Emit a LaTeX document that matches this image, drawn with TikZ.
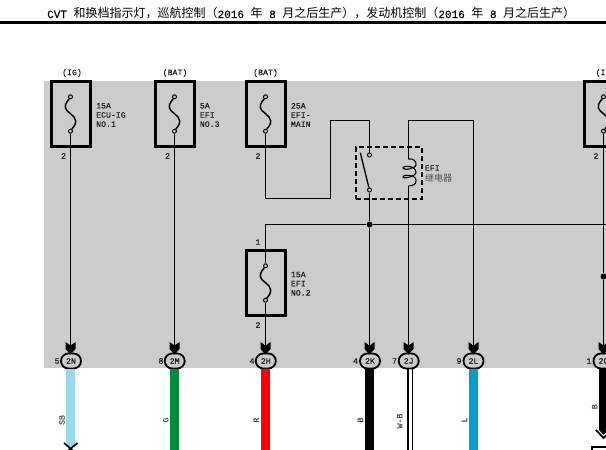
\documentclass[tikz,border=0pt]{standalone}
\usepackage{fontspec}
\usetikzlibrary{shapes.misc}
\newfontfamily\lm[RawFeature={embolden=0.2}]{Liberation Mono}
\newfontfamily\cjk{Noto Sans CJK SC}
\definecolor{bggray}{HTML}{CCCCCC}
\definecolor{wsb}{HTML}{99D9EA}
\definecolor{wg}{HTML}{008C3C}
\definecolor{wl}{HTML}{00A0C8}
\tikzset{
 lab/.style={inner sep=0pt,font=\lm\fontsize{8.2}{9.2}\selectfont,text=black!90},
 labl/.style={lab,anchor=west,align=left},
 wirelab/.style={lab,rotate=90,text=black!70},
 fusebox/.style={draw,line width=3pt,minimum width=39pt,minimum height=65pt,inner sep=0pt},
 contact/.style={circle,draw,line width=1pt,minimum size=4pt,inner sep=0pt},
 wire/.style={line width=1pt,black},
 fusewire/.style={line width=1.5pt,black},
 pin/.style={rounded rectangle,draw,line width=1.8pt,minimum width=20pt,minimum height=15pt,inner sep=0pt,lab},
 thick wire/.style={line width=9pt},
 dot/.style={circle,fill=black,minimum size=6pt,inner sep=0pt},
 relaybox/.style={draw,line width=1.6pt,dash pattern=on 5pt off 3pt,minimum width=66pt,minimum height=52pt,inner sep=0pt},
 pintip/.pic={\fill (-5,-12.5)--(0,-9)--(5,-12.5)--(5,-5.5)--(0,0)--(-5,-5.5)--cycle;}
}
\newcommand\fusesym[3]{%
 \node[fusebox] (#1) at (#2,#3) {};
 \node[contact] (#1t) at (#2,#3-17.2) {};
 \node[contact] (#1b) at (#2,#3+17.2) {};
 \draw[fusewire] (#1t) .. controls (#2-2,#3-14) and (#2-5.5,#3-11) .. (#2-5.2,#3-6.5) .. controls (#2-5,#3-2) and (#2+5,#3+1) .. (#2+5.2,#3+7) .. controls (#2+5.4,#3+11) and (#2+2,#3+14) .. (#1b);
}
\begin{document}
\begin{tikzpicture}[x=1pt,y=-1pt,line cap=butt]
\useasboundingbox (0,0) rectangle (606,450);
\clip (0,0) rectangle (606,450);
\fill[white] (0,0) rectangle (606,450);
\fill[bggray] (44,81) rectangle (606,368);
\fill[black] (0,21) rectangle (606,24);
\node[anchor=west,inner sep=0pt] (title) at (47,13.5) {\fontsize{12}{12}\selectfont{\lm\fontsize{11}{12}\selectfont CVT }{\cjk 和换档指示灯，巡航控制（}{\lm\fontsize{11}{12}\selectfont 2016 }{\cjk 年}{\lm\fontsize{11}{12}\selectfont\ 8 }{\cjk 月之后生产），发动机控制（}{\lm\fontsize{11}{12}\selectfont 2016 }{\cjk 年}{\lm\fontsize{11}{12}\selectfont\ 8 }{\cjk 月之后生产）}};

% fuses
\fusesym{fa}{70.5}{114}
\fusesym{fb}{174.5}{114}
\fusesym{fc}{265.5}{114}
\fusesym{fd}{603.5}{114}
\fusesym{fe}{265.5}{283}

\node[lab] (sa) at (72,73) {(IG)};
\node[lab] (sb) at (175,73) {(BAT)};
\node[lab] (sc) at (265.5,73) {(BAT)};
\node[lab,anchor=west] (sd) at (595.5,73) {(IG)};

\node[labl] (la) at (96,115) {15A\\ECU-IG\\NO.1};
\node[labl] (lb) at (199.7,115) {5A\\EFI\\NO.3};
\node[labl] (lc) at (290.7,115) {25A\\EFI-\\MAIN};
\node[labl] (le) at (290.7,283.7) {15A\\EFI\\NO.2};

\node[lab] (ta) at (63.5,156) {2};
\node[lab] (tb) at (167.5,156) {2};
\node[lab] (tc) at (258,156) {2};
\node[lab] (td) at (596,156) {2};
\node[lab] (te) at (258,242) {1};
\node[lab] (tf) at (258,325) {2};

% pins
\node[pin] (pN) at (71,361) {2N};
\node[pin] (pM) at (174.7,361) {2M};
\node[pin] (pH) at (265.8,361) {2H};
\node[pin] (pK) at (370,361) {2K};
\node[pin] (pJ) at (408.7,361) {2J};
\node[pin] (pL) at (473.5,361) {2L};
\node[pin] (pC) at (603.5,361) {2C};
\foreach \p/\n/\x in {pN/5/57,pM/8/161,pH/4/252,pK/4/355.5,pJ/7/394.5,pL/9/459,pC/1/589}
  \node[lab] (n\p) at (\x,361) {\n};

% relay
\node[relaybox] (relay) at (388.7,173) {};
\node[contact] (ra) at (369.5,155) {};
\node[contact] (rb) at (369.5,190) {};
\coordinate (rfree) at (360.3,152.7);
\draw[line width=1.3pt] (rfree) -- (rb);
\coordinate (ct) at (408.5,159);
\coordinate (cb) at (408.5,186);
\draw[line width=1.1pt] (ct) .. controls (414,158) and (416.5,162) .. (416,165)
  .. controls (415.5,168.5) and (403.5,171) .. (403,168)
  .. controls (402.5,165.5) and (416,165) .. (416,172.5)
  .. controls (416,176) and (403.5,179.5) .. (403,177)
  .. controls (402.5,174.5) and (416,174) .. (416,180.5)
  .. controls (416.5,184) and (413,186) .. (cb);
\node[labl] (rl) at (424.7,168) {EFI};
\node[anchor=west,inner sep=0pt,text=black!70,font=\cjk\fontsize{9}{9}\selectfont] (rl2) at (425,178) {继电器};

% junctions and corners
\node[dot] (j1) at (369.5,224.5) {};
\node[dot] (j2) at (603.5,276.5) {};
\coordinate (r1) at (606,224.5);
\coordinate (a1) at (265.5,198.5);
\coordinate (a2) at (330.5,198.5);
\coordinate (a3) at (330.5,120.5);
\coordinate (a4) at (369.5,120.5);
\coordinate (b1) at (408.5,120.5);
\coordinate (b2) at (473.5,120.5);
\coordinate (c1) at (265.5,224.5);

% fine wires
\draw[wire] (fab) -- (70.5,350);
\draw[wire] (fbb) -- (174.5,350);
\draw[wire] (fcb) -- (a1) -- (a2) -- (a3) -- (a4) -- (ra);
\draw[wire] (rb) -- (j1) -- (369.5,350);
\draw[wire] (fet) -- (c1) -- (j1) -- (r1);
\draw[wire] (feb) -- (265.5,350);
\draw[wire] (ct) -- (b1) -- (b2) -- (473.5,350);
\draw[wire] (cb) -- (408.5,350);
\draw[wire] (fdb) -- (j2) -- (603.5,350);

\foreach \x/\p in {70.5/pN,174.5/pM,265.5/pH,369.5/pK,408.5/pJ,473.5/pL,603.5/pC}
  \pic at (\x,354.5) {pintip};

% thick wires
\coordinate (eN) at (70.5,447);
\draw[wsb,thick wire] (70.5,369) -- (eN);
\draw[wg,thick wire] (174.5,369) -- (174.5,450);
\draw[red,thick wire] (265.5,369) -- (265.5,450);
\draw[black,thick wire] (369.5,369) -- (369.5,450);
\draw[wl,thick wire] (473.5,369) -- (473.5,450);
\draw[black,line width=2pt] (408,369) -- (408,450);
\draw[black,line width=1pt] (412.5,369) -- (412.5,450);
\fill[black] (599,369) -- (599,430) -- (603.5,435) -- (608,430) -- (608,369) -- cycle;
\draw[black,line width=1.6pt] (64,443) -- (73.5,451);
\draw[black,line width=1.6pt] (77.5,443) -- (67.5,451);
\draw[black,line width=1.8pt] (596,430) -- (603.5,438) -- (612,430);
\node[draw,line width=2pt,fill=white,minimum width=40pt,minimum height=20pt,anchor=north west] (conn) at (590.5,446) {};

% wire labels
\node[wirelab] (wa) at (62,420) {SB};
\node[wirelab] (wb) at (165.7,420) {G};
\node[wirelab] (wc) at (256.3,420) {R};
\node[wirelab] (wd) at (360.3,420) {B};
\node[wirelab] (we) at (399.7,421) {W-B};
\node[wirelab] (wf) at (464.3,420) {L};
\node[wirelab] (wg) at (594.7,406.7) {B};
\end{tikzpicture}
\end{document}
